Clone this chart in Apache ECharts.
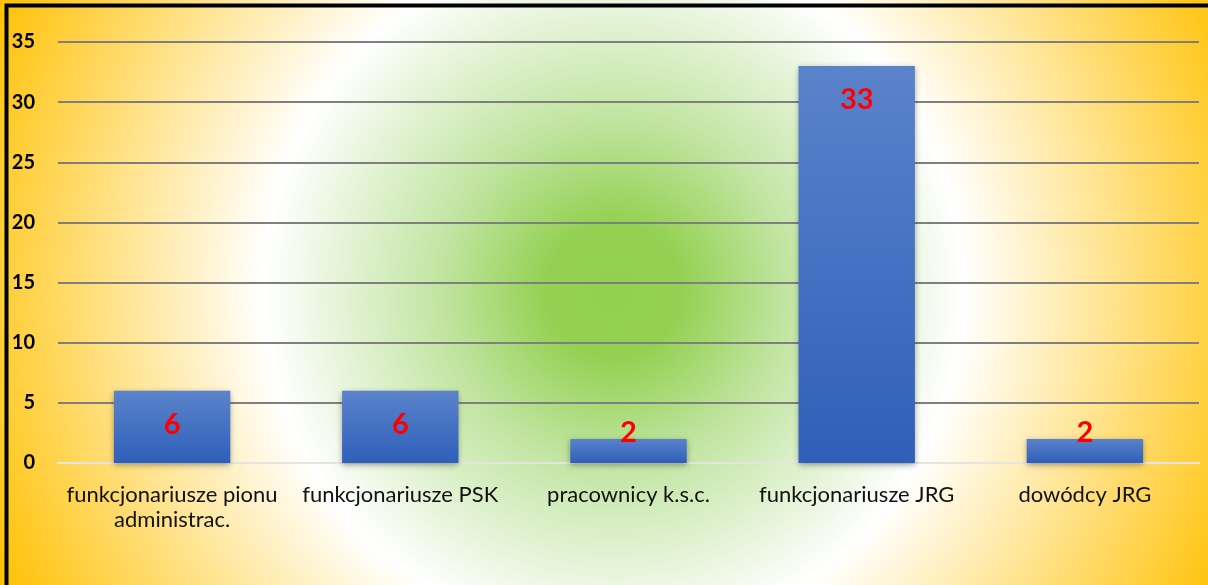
<!DOCTYPE html>
<html><head><meta charset="utf-8">
<script src="https://cdn.jsdelivr.net/npm/echarts@6/dist/echarts.min.js"></script>
<style>html,body{margin:0;padding:0;background:#fff}#c{width:1208px;height:585px}</style>
</head><body><div id="c"></div>
<script>
const categories = ['funkcjonariusze pionu\nadministrac.', 'funkcjonariusze PSK', 'pracownicy k.s.c.', 'funkcjonariusze JRG', 'dowódcy JRG'];
const values = [6, 6, 2, 33, 2];
const yTicks = [0, 5, 10, 15, 20, 25, 30, 35];

const chart = echarts.init(document.getElementById('c'), null, {renderer: 'canvas'});
const font = 'Lato, "Open Sans", sans-serif';
const data = values.map(v => {
  if (v < 4) {
    return {value: v, label: {position: 'top', distance: -8}};
  }
  return {value: v};
});
chart.setOption({
  animation: false,
  backgroundColor: {
    type: 'radial', x: 0.508, y: 0.496, r: 1.17,
    colorStops: [
      {offset: 0, color: '#92d050'},
      {offset: 0.1, color: '#94d153'},
      {offset: 0.25, color: '#c0e4a0'},
      {offset: 0.51, color: '#ffffff'},
      {offset: 1, color: '#ffc000'}
    ]
  },
  graphic: [{
    type: 'rect', silent: true, z: 100,
    shape: {x: 6.5, y: 5.5, width: 1400, height: 800},
    style: {fill: 'none', stroke: '#000', lineWidth: 4}
  }],
  grid: {left: 58, right: 9, top: 42, bottom: 122, containLabel: false},
  xAxis: {
    type: 'category', data: categories,
    axisTick: {show: false},
    axisLine: {show: true, lineStyle: {color: 'rgba(240,240,235,0.9)', width: 2}},
    axisLabel: {color: '#111', fontSize: 22, fontFamily: font, margin: 19, lineHeight: 25, interval: 0}
  },
  yAxis: {
    type: 'value', min: 0, max: 35, interval: 5,
    axisLine: {show: false}, axisTick: {show: false},
    axisLabel: {color: '#000', fontSize: 20, fontWeight: 'bold', fontFamily: font, margin: 23, align: 'right'},
    splitLine: {lineStyle: {color: '#7f7f7f', width: 2}}
  },
  series: [{
    type: 'bar', data: data, barCategoryGap: '49%',
    itemStyle: {
      color: {type: 'linear', x: 0, y: 0, x2: 0, y2: 1,
        colorStops: [{offset: 0, color: '#5b83cb'}, {offset: 1, color: '#2f5fb9'}]},
      shadowBlur: 6, shadowColor: 'rgba(0,0,0,0.35)', shadowOffsetY: 2
    },
    label: {
      show: true, position: 'insideTop', distance: 19,
      color: '#ff0000', fontSize: 29, fontWeight: 'bold', fontFamily: font
    }
  }]
});
</script></body></html>
